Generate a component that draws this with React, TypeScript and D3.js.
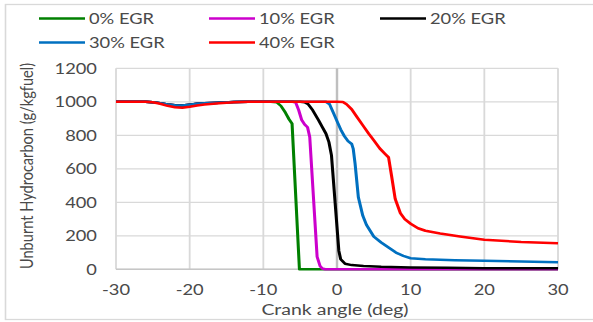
import React from 'react'
import * as d3 from 'd3'

// crank angle (deg) vs unburnt HC (g/kgfuel)
const egr0: [number, number][] = [
  [-30, 1000], [-28, 1000], [-26, 1000], [-25, 998], [-24, 992], [-23, 984], [-22, 979], [-21, 978],
  [-20, 983], [-19, 988], [-18, 991], [-16, 995], [-14, 999], [-12, 1000], [-10, 1000], [-9, 1000],
  [-8.2, 998], [-7.6, 975], [-7, 935], [-6.5, 895], [-6.1, 870], [-5.1, 0], [-4, 0], [0, 0],
  [10, 0], [20, 0], [30, 0],
]
const egr10: [number, number][] = [
  [-30, 1000], [-28, 1000], [-26, 1000], [-25, 998], [-24, 992], [-23, 984], [-22, 979], [-21, 978],
  [-20, 983], [-19, 988], [-18, 991], [-16, 995], [-14, 999], [-12, 1000], [-10, 1000], [-6, 1000],
  [-5.6, 995], [-5.2, 950], [-4.8, 892], [-4.4, 865], [-4, 848], [-3.7, 790], [-2.7, 75], [-2.3, 20],
  [-2, 5], [-1.6, 0], [0, 0], [10, 0], [20, 0], [30, 0],
]
const egr20: [number, number][] = [
  [-30, 1000], [-28, 1000], [-26, 1000], [-25, 998], [-24, 992], [-23, 984], [-22, 979], [-21, 978],
  [-20, 983], [-19, 988], [-18, 991], [-16, 995], [-14, 999], [-12, 1000], [-10, 1000], [-5, 1000],
  [-4.4, 998], [-3.9, 985], [-3.3, 950], [-2.5, 890], [-2, 850], [-1.5, 810], [-1.1, 760], [-0.75, 680],
  [0.25, 110], [0.5, 60], [1.1, 33], [2, 25], [3.6, 20], [6, 15], [10, 11], [15, 9], [20, 7], [25, 6], [30, 6],
]
const egr30: [number, number][] = [
  [-30, 1000], [-28, 1000], [-26, 1000], [-25, 998], [-24, 992], [-23, 984], [-22, 979], [-21, 978],
  [-20, 983], [-19, 988], [-18, 991], [-16, 995], [-14, 999], [-12, 1000], [-10, 1000], [-1.5, 1000],
  [-1, 985], [-0.5, 935], [0, 885], [0.5, 835], [1, 795], [1.5, 765], [2, 748], [2.2, 720], [2.45, 632],
  [2.9, 430], [3.5, 320], [4, 265], [5, 195], [6, 160], [7, 130], [8, 100], [9, 80], [10, 66], [12, 60],
  [16, 54], [20, 51], [25, 46], [30, 42],
]
const egr40: [number, number][] = [
  [-30, 1000], [-28, 1000], [-26, 1000], [-25, 997], [-24, 988], [-23, 976], [-22, 968], [-21, 964],
  [-20, 970], [-19, 978], [-18, 984], [-16, 991], [-14, 997], [-12, 1000], [-10, 1000], [0, 1000],
  [0.8, 999], [1.3, 985], [2, 955], [2.7, 910], [3.5, 860], [4.3, 810], [5, 770], [5.8, 722], [6.5, 690],
  [7, 668], [7.4, 560], [7.9, 420], [8.6, 335], [9.2, 300], [10, 272], [11, 245], [12, 230], [14, 214],
  [16.7, 196], [20, 176], [25, 163], [30, 155],
]

const seriesNames = ['0% EGR', '10% EGR', '20% EGR', '30% EGR', '40% EGR']
const seriesColors = ['#008000', '#CC00CC', '#000000', '#0070C0', '#FF0000']
const seriesData = [egr0, egr10, egr20, egr30, egr40]

const xTicks = [-30, -20, -10, 0, 10, 20, 30]
const yTicks = [0, 200, 400, 600, 800, 1000, 1200]

const W = 593
const H = 322
// the source picture is stretched sideways, so draw in a narrower space and widen it
const S = 1.22
const VW = W / S

const font = "Lato, 'Open Sans', sans-serif"
const textColor = '#4a4a4a'

const App = () => {
  const x = d3.scaleLinear().domain([-30, 30]).range([116 / S, 558 / S])
  const y = d3.scaleLinear().domain([0, 1200]).range([269.3, 68.3])
  const line = d3
    .line<[number, number]>()
    .x((d) => x(d[0]))
    .y((d) => y(d[1]))

  // legend slots: [swatch start, row]
  const legendPos: [number, number][] = [
    [39, 0], [209, 0], [380, 0], [39, 1], [209, 1],
  ]

  return (
    <svg
      width={W}
      height={H}
      style={{ position: 'absolute', left: 0, top: 0, background: '#fff' }}
    >
      <g transform={`scale(${S},1)`}>
        <rect x={5.5 / S} y={4.5} width={VW} height={315} fill="#fff" stroke="#D9D9D9" strokeWidth={1.3} />

        {/* grid */}
        {yTicks.map((t) => (
          <line key={'gy' + t} x1={x(-30)} x2={x(30)} y1={y(t)} y2={y(t)} stroke="#D9D9D9" strokeWidth={1.3} />
        ))}
        {xTicks.map((t) => (
          <line key={'gx' + t} x1={x(t)} x2={x(t)} y1={y(0)} y2={y(1200)} stroke="#D9D9D9" strokeWidth={1.5} />
        ))}
        {/* axis lines */}
        <line x1={x(-30)} x2={x(30)} y1={y(0)} y2={y(0)} stroke="#C6C6C6" strokeWidth={1.4} />
        <line x1={x(0)} x2={x(0)} y1={y(0)} y2={y(1200)} stroke="#BFBFBF" strokeWidth={2} />

        {/* series */}
        {seriesData.map((d, i) => (
          <path key={seriesNames[i]} d={line(d) || ''} fill="none" stroke={seriesColors[i]} strokeWidth={2.5} strokeLinejoin="round" />
        ))}

        {/* tick labels */}
        {yTicks.map((t) => (
          <text key={'ly' + t} x={97 / S} y={y(t)} dy="0.36em" textAnchor="end" fontFamily={font} fontSize={15} fill={textColor}>
            {t}
          </text>
        ))}
        {xTicks.map((t) => (
          <text key={'lx' + t} x={x(t)} y={295} textAnchor="middle" fontFamily={font} fontSize={15} fill={textColor}>
            {t}
          </text>
        ))}

        {/* axis titles */}
        <text x={335 / S} y={315} textAnchor="middle" fontFamily={font} fontSize={16} fill={textColor}>
          Crank angle (deg)
        </text>
        <text
          transform={`translate(${33 / S},166) rotate(-90)`}
          textAnchor="middle"
          fontFamily={font}
          fontSize={14.6}
          fill={textColor}
        >
          Unburnt Hydrocarbon (g/kgfuel)
        </text>

        {/* legend */}
        {seriesNames.map((name, i) => {
          const [lx, row] = legendPos[i]
          const ly = row === 0 ? 18.5 : 42.5
          return (
            <g key={'lg' + name}>
              <line x1={lx / S} x2={(lx + 46) / S} y1={ly} y2={ly} stroke={seriesColors[i]} strokeWidth={2.5} />
              <text x={(lx + 50) / S} y={ly} dy="0.36em" fontFamily={font} fontSize={15} fill={textColor}>
                {name}
              </text>
            </g>
          )
        })}
      </g>
    </svg>
  )
}

export default App
